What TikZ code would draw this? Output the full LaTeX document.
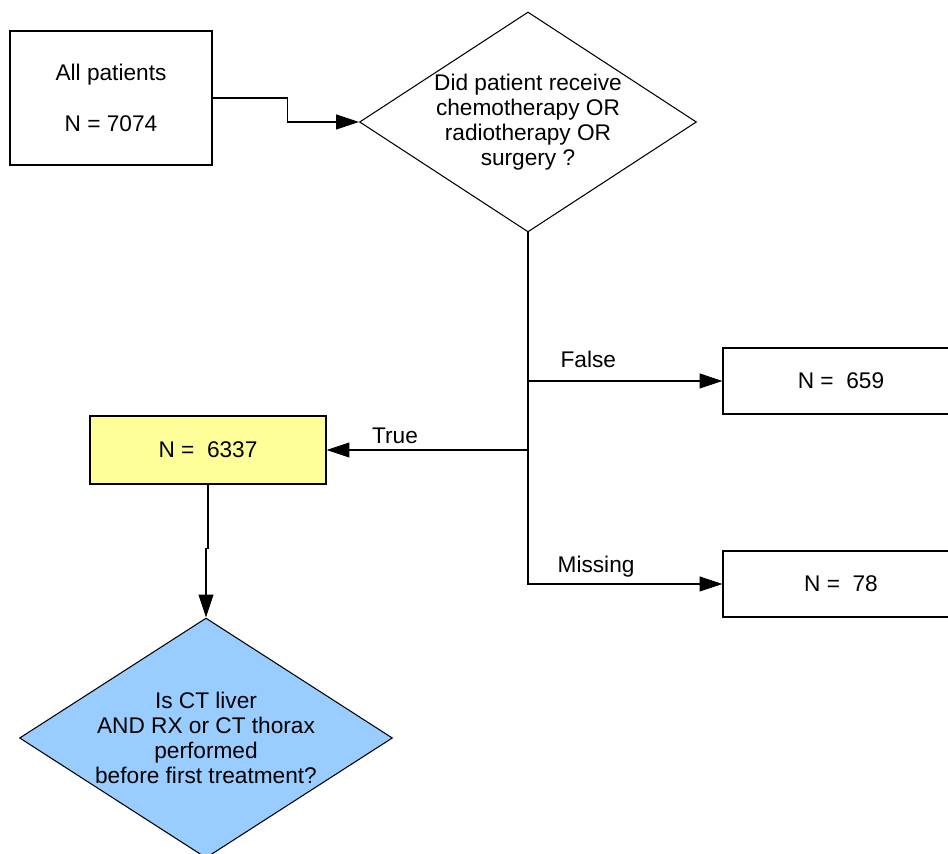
\documentclass[tikz,border=0pt]{standalone}
\usepackage{fontspec}
\setmainfont{Liberation Sans}
\usepackage{tikz}
\usetikzlibrary{shapes.geometric, arrows.meta, positioning}
\definecolor{gelb}{HTML}{FFFF99}
\definecolor{hellblau}{HTML}{99CCFF}

\begin{document}
\begin{tikzpicture}[x=0.02cm, y=-0.02cm,
		font=\fontsize{12.9}{14.2}\selectfont,
		punkt/.style={
			rectangle,
			draw=black, line width=0.6pt,
			minimum width=4.72cm,
			minimum height=1.32cm,
			align=center},
		frage/.style={
			diamond,
			draw=black, line width=0.6pt,
			inner sep=0pt,
			align=center},
		arrow/.style={line width=0.6pt, draw, -{Triangle[length=13pt, width=8.5pt]}}]
		\useasboundingbox (0,0) rectangle (948,854);
		\clip (0,0) rectangle (948,854);
		% boxes and questions
		\node[punkt, minimum width=4.04cm, minimum height=2.68cm] (all) at (111,98) {All patients\\[15pt]N = 7074};
		\node[frage, minimum width=6.74cm, minimum height=4.4cm, aspect=1.53] (q1) at (528,122) {Did patient receive\\chemotherapy OR\\radiotherapy OR\\surgery ?};
		\node[punkt] (n659) at (841,381) {N = \ 659};
		\node[punkt, fill=gelb, minimum height=1.36cm] (yes) at (208,450) {N = \ 6337};
		\node[punkt] (n78) at (841,584) {N = \ 78};
		\node[frage, fill=hellblau, minimum width=7.46cm, minimum height=4.8cm, aspect=1.56] (q2) at (206,738) {Is CT liver\\AND RX or CT thorax\\performed\\before first treatment?};
		% connectors
		\draw [arrow] (all.east) -- ++(75,0) |- (q1.west);
		\draw [arrow] (q1.south) |- (n78.west) node[pos=0.675, above] {Missing};
		\draw [arrow] (q1.south |- n659.west) -- (n659.west) node[pos=0.31, above, yshift=4pt] {False};
		\draw [arrow] (q1.south |- yes.east) -- (yes.east) node[pos=0.66, above] {True};
		\draw [arrow] (yes.south) -- ++(0,64) -| (q2.north);
\end{tikzpicture}
\end{document}
